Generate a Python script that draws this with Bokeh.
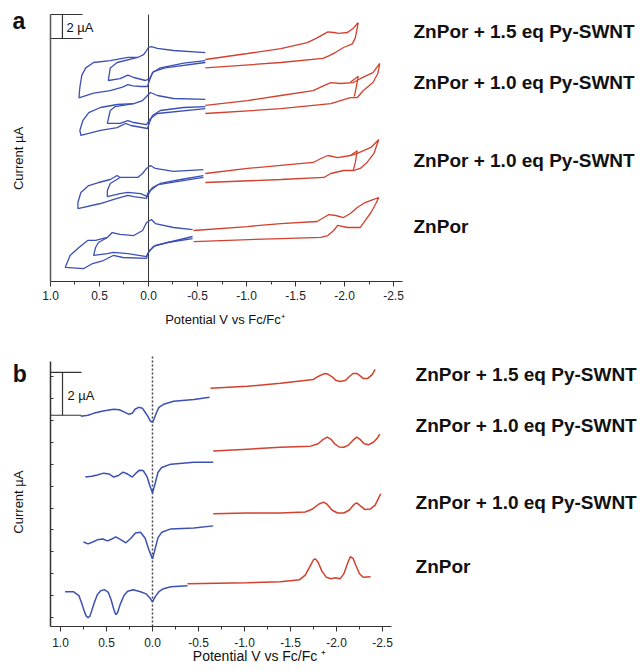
import math
from bokeh.plotting import figure
from bokeh.models import Range1d, FixedTicker, Label, PrintfTickFormatter, CustomJSTickFormatter
from bokeh.layouts import column
from bokeh.embed import file_html
from bokeh.resources import INLINE

BLUE = "#3c50b4"
RED = "#d2402e"
FONT = "Liberation Sans"

trace_labels = ["ZnPor + 1.5 eq Py-SWNT", "ZnPor + 1.0 eq Py-SWNT",
                "ZnPor + 1.0 eq  Py-SWNT", "ZnPor"]
x_ticks = [1.0, 0.5, 0.0, -0.5, -1.0, -1.5, -2.0, -2.5]
x_minor = [0.75, 0.25, -0.25, -0.75, -1.25, -1.75, -2.25]

# ---------------- panel a : cyclic voltammograms (V, uA) ----------------
a1_blue_outer_v = [-0.58, -0.255, -0.09, -0.03, 0.0, 0.02, 0.05, 0.11, 0.21, 0.39, 0.56, 0.64, 0.68, 0.70, 0.71, 0.56, 0.39, 0.265, 0.21, 0.16, 0.08, 0.01, -0.01, -0.04, -0.12, -0.36, -0.58]
a1_blue_outer_i = [19.08, 19.25, 19.42, 19.58, 19.5, 19.25, 18.9, 18.67, 18.67, 18.4, 18.25, 17.8, 17.2, 16.2, 15.3, 15.7, 15.9, 16.2, 16.4, 16.3, 16.25, 16.25, 16.75, 17.4, 17.8, 18.2, 18.4]
a1_blue_inner_v = [0.11, 0.32, 0.39, 0.41, 0.29, 0.21, 0.15, 0.03, -0.01, -0.05, -0.17, -0.58]
a1_blue_inner_i = [18.67, 18.25, 17.8, 16.75, 16.9, 17.2, 17.0, 16.75, 16.9, 17.5, 17.8, 18.25]
a1_red_v = [-0.58, -1.01, -1.35, -1.62, -1.72, -1.83, -1.89, -1.94, -2.03, -2.09, -2.13, -2.14, -2.11, -2.08, -1.99, -1.91, -1.84, -1.78, -1.35, -0.58]
a1_red_i = [18.5, 19.0, 19.4, 19.9, 20.3, 20.8, 20.75, 20.67, 20.75, 21.1, 21.5, 21.55, 20.3, 19.8, 19.5, 19.1, 18.8, 18.6, 18.25, 17.8]

a2_blue_outer_v = [-0.58, -0.255, -0.09, -0.02, 0.01, 0.06, 0.15, 0.32, 0.49, 0.61, 0.67, 0.70, 0.69, 0.49, 0.32, 0.235, 0.18, 0.01, -0.01, -0.04, -0.12, -0.36, -0.58]
a2_blue_outer_i = [15.17, 15.25, 15.5, 15.75, 15.5, 15.08, 14.83, 14.75, 14.5, 14.08, 13.4, 12.6, 12.17, 12.6, 12.83, 13.17, 13.0, 12.75, 13.25, 13.83, 14.25, 14.5, 14.58]
a2_blue_inner_v = [0.15, 0.34, 0.39, 0.42, 0.29, 0.21, 0.15, 0.02, -0.02, -0.09, -0.58]
a2_blue_inner_i = [14.83, 14.58, 14.25, 13.17, 13.17, 13.4, 13.25, 13.08, 13.58, 14.0, 14.4]
a2_red_v = [-0.58, -1.01, -1.35, -1.68, -1.79, -1.86, -1.96, -2.09, -2.16, -2.29, -2.36, -2.34, -2.29, -2.19, -2.13, -2.06, -1.96, -1.86, -1.35, -0.58]
a2_red_i = [14.67, 15.08, 15.5, 15.9, 16.33, 16.58, 16.5, 16.58, 16.9, 17.4, 18.17, 17.33, 16.58, 15.9, 15.33, 15.33, 15.08, 14.83, 14.4, 14.0]
a2_red_inner_v = [-2.06, -2.14, -2.12, -2.10]
a2_red_inner_i = [16.6, 17.1, 16.2, 15.4]

a3_blue_outer_v = [-0.56, -0.255, -0.07, -0.02, 0.02, 0.06, 0.11, 0.29, 0.32, 0.39, 0.51, 0.61, 0.69, 0.72, 0.72, 0.49, 0.32, 0.21, 0.15, 0.02, 0.01, -0.04, -0.12, -0.33, -0.56]
a3_blue_outer_i = [9.33, 9.17, 9.42, 9.67, 9.42, 9.0, 8.67, 8.67, 8.83, 8.5, 8.25, 8.0, 7.42, 6.58, 6.08, 6.5, 6.92, 7.17, 7.08, 6.92, 7.33, 7.83, 8.17, 8.5, 8.83]
a3_blue_inner_v = [0.29, 0.39, 0.42, 0.42, 0.29, 0.21, 0.08, 0.01, -0.02, -0.10, -0.56]
a3_blue_inner_i = [8.67, 8.17, 7.58, 7.08, 7.33, 7.42, 7.33, 7.08, 7.58, 8.08, 8.67]
a3_red_v = [-0.58, -1.01, -1.35, -1.68, -1.76, -1.83, -1.93, -2.06, -2.13, -2.27, -2.35, -2.30, -2.23, -2.16, -2.09, -1.99, -1.86, -1.79, -1.35, -0.58]
a3_red_i = [9.0, 9.42, 9.67, 9.92, 10.25, 10.5, 10.33, 10.5, 10.67, 11.17, 11.83, 10.67, 9.92, 9.42, 9.25, 9.25, 9.0, 8.67, 8.5, 8.25]
a3_red_inner_v = [-2.06, -2.13, -2.11, -2.09]
a3_red_inner_i = [10.5, 10.9, 9.9, 9.3]

a4_blue_outer_v = [-0.45, -0.255, -0.07, -0.03, 0.02, 0.06, 0.15, 0.29, 0.37, 0.42, 0.54, 0.62, 0.71, 0.80, 0.85, 0.66, 0.57, 0.46, 0.36, 0.26, 0.02, 0.01, -0.05, -0.19, -0.45]
a4_blue_outer_i = [4.33, 4.5, 4.83, 5.17, 4.92, 4.25, 3.83, 3.92, 4.08, 3.67, 3.42, 3.42, 2.83, 2.17, 1.17, 1.08, 1.5, 1.75, 2.17, 2.0, 1.92, 2.33, 2.92, 3.25, 3.58]
a4_blue_inner_v = [0.42, 0.51, 0.54, 0.56, 0.42, 0.36, 0.21, 0.02, -0.01, -0.07, -0.45]
a4_blue_inner_i = [3.67, 3.25, 2.83, 2.17, 2.33, 2.42, 2.33, 2.08, 2.58, 3.0, 3.75]
a4_red_v = [-0.46, -1.01, -1.35, -1.72, -1.79, -1.84, -1.91, -1.99, -2.06, -2.13, -2.21, -2.29, -2.35, -2.32, -2.27, -2.21, -2.16, -2.03, -1.93, -1.89, -1.83, -1.76, -1.35, -0.46]
a4_red_i = [4.25, 4.58, 4.83, 5.0, 5.33, 5.58, 5.5, 5.33, 5.67, 6.17, 6.58, 6.83, 7.0, 6.5, 5.75, 5.08, 4.5, 4.5, 4.67, 4.25, 3.83, 3.67, 3.58, 3.33]

# label baselines (uA) for panel a
a_label_i = [20.83, 16.58, 10.08, 4.58]

# ---------------- panel b : differential pulse voltammograms ----------------
b1_blue_v = [0.78, 0.70, 0.64, 0.55, 0.49, 0.42, 0.36, 0.31, 0.26, 0.22, 0.19, 0.15, 0.11, 0.08, 0.05, 0.025, 0.0, -0.02, -0.045, -0.07, -0.12, -0.23, -0.45, -0.62]
b1_blue_i = [9.81, 9.86, 9.95, 10.05, 10.09, 10.14, 10.12, 10.02, 9.91, 9.95, 10.14, 10.23, 10.19, 10.0, 9.81, 9.6, 9.53, 9.72, 10.0, 10.23, 10.37, 10.51, 10.6, 10.7]
b1_red_v = [-0.63, -1.03, -1.39, -1.75, -1.80, -1.85, -1.88, -1.91, -1.96, -1.99, -2.04, -2.10, -2.14, -2.18, -2.22, -2.25, -2.29, -2.34, -2.39, -2.42]
b1_red_i = [11.12, 11.21, 11.35, 11.53, 11.67, 11.77, 11.81, 11.77, 11.63, 11.49, 11.44, 11.49, 11.67, 11.81, 11.81, 11.72, 11.58, 11.58, 11.77, 12.0]

b2_blue_v = [0.73, 0.66, 0.60, 0.53, 0.47, 0.42, 0.37, 0.32, 0.27, 0.22, 0.18, 0.14, 0.10, 0.06, 0.03, 0.0, -0.03, -0.06, -0.10, -0.20, -0.45, -0.66]
b2_blue_i = [6.98, 7.02, 7.07, 7.16, 7.12, 6.98, 7.05, 7.21, 7.12, 6.98, 7.16, 7.30, 7.28, 7.0, 6.6, 6.23, 6.7, 7.2, 7.42, 7.58, 7.67, 7.67]
b2_red_v = [-0.66, -1.03, -1.39, -1.72, -1.80, -1.85, -1.90, -1.94, -1.98, -2.03, -2.08, -2.13, -2.18, -2.22, -2.26, -2.30, -2.35, -2.40, -2.44, -2.47]
b2_red_i = [8.19, 8.28, 8.37, 8.42, 8.53, 8.72, 8.84, 8.74, 8.53, 8.38, 8.37, 8.47, 8.70, 8.84, 8.72, 8.53, 8.49, 8.60, 8.77, 8.98]

b3_blue_v = [0.75, 0.70, 0.65, 0.60, 0.54, 0.49, 0.44, 0.40, 0.35, 0.29, 0.24, 0.185, 0.13, 0.08, 0.04, 0.0, -0.03, -0.06, -0.10, -0.20, -0.45, -0.66]
b3_blue_i = [3.95, 3.86, 3.95, 4.05, 4.09, 4.0, 4.09, 4.19, 4.07, 3.91, 4.10, 4.37, 4.40, 4.12, 3.6, 3.16, 3.65, 4.15, 4.40, 4.56, 4.60, 4.70]
b3_red_v = [-0.66, -1.03, -1.39, -1.66, -1.74, -1.81, -1.86, -1.90, -1.95, -2.01, -2.08, -2.14, -2.19, -2.22, -2.26, -2.31, -2.37, -2.42, -2.48]
b3_red_i = [5.26, 5.30, 5.30, 5.35, 5.49, 5.72, 5.81, 5.70, 5.44, 5.30, 5.30, 5.44, 5.70, 5.77, 5.63, 5.46, 5.49, 5.67, 6.19]

b4_blue_v = [0.95, 0.86, 0.80, 0.77, 0.74, 0.72, 0.70, 0.68, 0.66, 0.63, 0.60, 0.56, 0.52, 0.48, 0.45, 0.42, 0.40, 0.38, 0.35, 0.31, 0.27, 0.21, 0.13, 0.07, 0.03, 0.0, -0.03, -0.07, -0.12, -0.20, -0.38]
b4_blue_i = [1.63, 1.63, 1.45, 1.10, 0.70, 0.49, 0.42, 0.49, 0.75, 1.15, 1.49, 1.68, 1.72, 1.60, 1.25, 0.80, 0.56, 0.65, 1.05, 1.45, 1.65, 1.72, 1.63, 1.53, 1.35, 1.16, 1.40, 1.63, 1.77, 1.86, 1.91]
b4_red_v = [-0.38, -1.03, -1.39, -1.60, -1.66, -1.71, -1.75, -1.77, -1.80, -1.84, -1.89, -1.94, -1.99, -2.04, -2.08, -2.12, -2.15, -2.18, -2.21, -2.25, -2.29, -2.37]
b4_red_i = [2.0, 2.05, 2.09, 2.19, 2.40, 2.80, 3.12, 3.16, 3.0, 2.60, 2.30, 2.23, 2.28, 2.23, 2.47, 2.95, 3.26, 3.18, 2.86, 2.47, 2.30, 2.33]

b_label_i = [11.77, 9.40, 5.81, 2.79]
b_yticks = [0.42, 1.44, 2.47, 3.49, 4.51, 5.53, 6.56, 7.58, 8.60, 9.63, 10.65, 11.67]


def style_x(p, left_v, right_v, standoff):
    ax = p.xaxis[0]
    ax.fixed_location = 0
    ax.bounds = (right_v, left_v)
    ax.ticker = FixedTicker(ticks=x_ticks, minor_ticks=x_minor)
    ax.formatter = PrintfTickFormatter(format="%.1f")
    ax.major_tick_out = 5
    ax.major_tick_in = 0
    ax.minor_tick_out = 3
    ax.minor_tick_in = 0
    ax.axis_line_color = "#333333"
    ax.axis_line_width = 1.2
    ax.major_tick_line_color = "#333333"
    ax.minor_tick_line_color = "#333333"
    ax.major_label_text_font = FONT
    ax.major_label_text_font_size = "12px"
    ax.major_label_text_color = "#222222"
    ax.major_label_standoff = standoff


def add_text(p, x, y, text, size, bold=False, angle=0.0, align="left", baseline="alphabetic"):
    p.add_layout(Label(x=x, y=y, text=text, text_font=FONT, text_font_size=size,
                       text_font_style="bold" if bold else "normal", angle=angle,
                       text_align=align, text_baseline=baseline, text_color="#111111"))


def base_fig(height, xr, yr):
    p = figure(width=640, height=height, x_range=Range1d(*xr), y_range=Range1d(*yr),
               output_backend="svg", toolbar_location=None,
               min_border_left=0, min_border_right=0, min_border_top=0, min_border_bottom=0)
    p.outline_line_color = None
    p.grid.visible = False
    return p


# ================= panel a =================
pa = base_fig(336, (1.510, -5.020), (-4.583, 23.417))
style_x(pa, 1.0, -2.592, 4)
pa.yaxis.fixed_location = 1.0
pa.yaxis.bounds = (0, 22.25)
pa.yaxis.ticker = FixedTicker(ticks=[])
pa.yaxis.major_tick_out = 0
pa.yaxis.axis_line_color = "#555555"
pa.yaxis.axis_line_width = 1.5

# zero-potential reference line
pa.segment(x0=[0.0], y0=[0.0], x1=[0.0], y1=[22.25], line_color="#333333", line_width=1)

for v, i, c in [
    (a1_blue_outer_v, a1_blue_outer_i, BLUE), (a1_blue_inner_v, a1_blue_inner_i, BLUE), (a1_red_v, a1_red_i, RED),
    (a2_blue_outer_v, a2_blue_outer_i, BLUE), (a2_blue_inner_v, a2_blue_inner_i, BLUE), (a2_red_v, a2_red_i, RED),
    (a2_red_inner_v, a2_red_inner_i, RED),
    (a3_blue_outer_v, a3_blue_outer_i, BLUE), (a3_blue_inner_v, a3_blue_inner_i, BLUE), (a3_red_v, a3_red_i, RED),
    (a3_red_inner_v, a3_red_inner_i, RED),
    (a4_blue_outer_v, a4_blue_outer_i, BLUE), (a4_blue_inner_v, a4_blue_inner_i, BLUE), (a4_red_v, a4_red_i, RED),
]:
    pa.line(v, i, line_color=c, line_width=1.3)

# 2 uA scale bar
pa.segment(x0=[1.0, 1.0, 0.878], y0=[22.25, 20.25, 22.25], x1=[0.673, 0.673, 0.878], y1=[22.25, 20.25, 20.25],
           line_color="#333333", line_width=1.2)
add_text(pa, 0.837, 21.17, "2 \u00b5A", "13px")
add_text(pa, 1.388, 21.67, "a", "23px", bold=True)
add_text(pa, 1.327, 10.25, "Current \u00b5A", "13px", angle=math.pi / 2, align="center", baseline="middle")
add_text(pa, -0.78, -3.20, "Potential V vs Fc/Fc\u207a", "13px", align="center")
for t, y in zip(trace_labels, a_label_i):
    add_text(pa, -2.704, y, t, "19px", bold=True)

# ================= panel b =================
pb = base_fig(334, (1.652, -5.304), (-2.047, 13.535))
style_x(pb, 1.109, -2.598, 6)
pb.yaxis.fixed_location = 1.109
pb.yaxis.bounds = (0, 12.37)
pb.yaxis.ticker = FixedTicker(ticks=b_yticks)
pb.yaxis.formatter = CustomJSTickFormatter(code="return ''")
pb.yaxis.major_tick_out = 0
pb.yaxis.major_tick_in = 3
pb.yaxis.major_label_standoff = 0
pb.yaxis.axis_line_color = "#333333"
pb.yaxis.axis_line_width = 1.5
pb.yaxis.major_tick_line_color = "#333333"

pb.segment(x0=[0.0], y0=[0.0], x1=[0.0], y1=[12.70], line_color="#444444", line_width=1.5, line_dash="2 2")

for v, i, c in [
    (b1_blue_v, b1_blue_i, BLUE), (b1_red_v, b1_red_i, RED),
    (b2_blue_v, b2_blue_i, BLUE), (b2_red_v, b2_red_i, RED),
    (b3_blue_v, b3_blue_i, BLUE), (b3_red_v, b3_red_i, RED),
    (b4_blue_v, b4_blue_i, BLUE), (b4_red_v, b4_red_i, RED),
]:
    pb.line(v, i, line_color=c, line_width=1.5)

pb.segment(x0=[1.109, 1.109, 0.978], y0=[11.86, 9.86, 11.86], x1=[0.772, 0.772, 0.978], y1=[11.86, 9.86, 9.86],
           line_color="#333333", line_width=1.2)
add_text(pb, 0.924, 10.78, "2 \u00b5A", "13px")
add_text(pb, 1.52, 11.77, "b", "23px", bold=True)
add_text(pb, 1.457, 5.81, "Current \u00b5A", "13px", angle=math.pi / 2, align="center", baseline="middle")
add_text(pb, -1.163, -1.35, "Potential V vs Fc/Fc \u207a", "14px", align="center")
for t, y in zip(trace_labels, b_label_i):
    add_text(pb, -2.859, y, t, "19px", bold=True)

layout = column(pa, pb, spacing=0)
open("out.html", "w").write(file_html(layout, INLINE))
